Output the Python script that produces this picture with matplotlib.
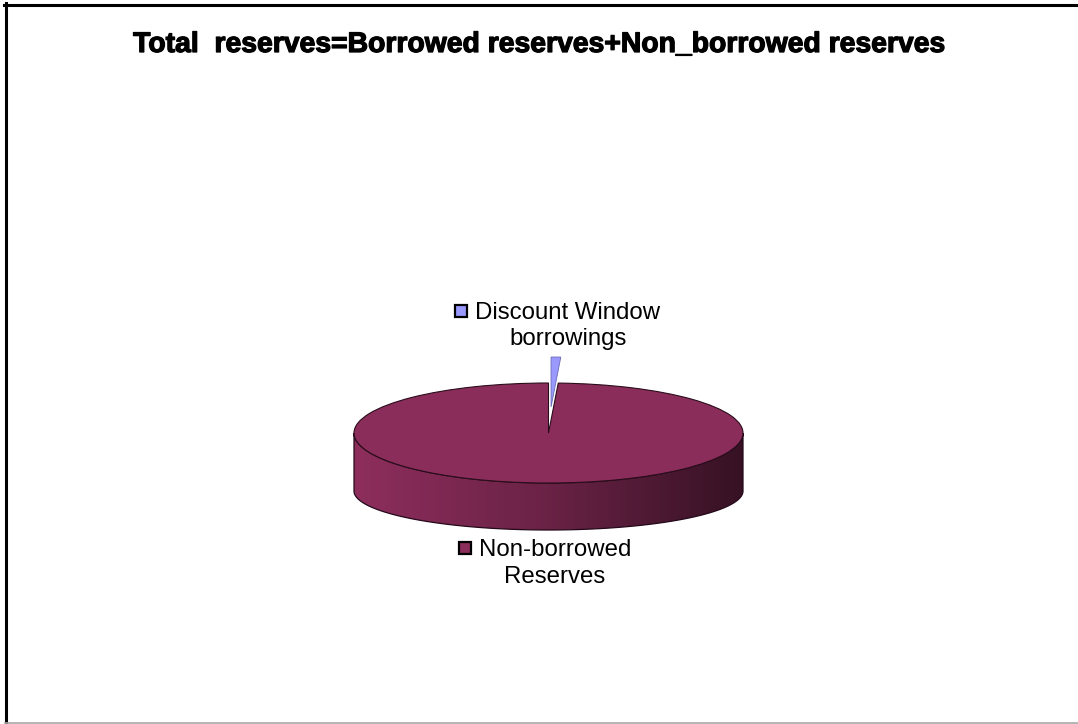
import numpy as np
import matplotlib
matplotlib.use("Agg")
import matplotlib.pyplot as plt
import matplotlib.patheffects as pe
from matplotlib.colors import LinearSegmentedColormap, to_rgb
from matplotlib.patches import Polygon
from matplotlib.lines import Line2D

plt.rcParams['font.family'] = ['Liberation Sans', 'DejaVu Sans']

# ---- data ----
title = "Total  reserves=Borrowed reserves+Non_borrowed reserves"
categories = ["Discount Window borrowings", "Non-borrowed Reserves"]
label_lines = [["Discount Window", "borrowings"], ["Non-borrowed", "Reserves"]]
shares = [0.8, 99.2]          # percent of total reserves
explode = [0.52, 0.0]
top_colors = ["#9999FF", "#8B2D5B"]

# ---- canvas in pixel units ----
W, H = 1078, 724
fig = plt.figure(figsize=(W / 100, H / 100), dpi=100)


def fx(x):
    return x / W


def fy(y):
    return 1 - y / H


# ellipse of the pie's top face (pixels)
cx, cy, rx, ry = 548.5, 433, 194.5, 50
side_drop = 1.16      # drop of the bottom rim centre, in top-face radii
bottom_flat = 0.78    # vertical squash of the bottom rim

ax = fig.add_axes([0, 0, 1, 1])
wedges, _ = ax.pie(shares, startangle=90, counterclock=False,
                   explode=explode, colors=top_colors, radius=1.0,
                   wedgeprops=dict(edgecolor='#2a0d1b', linewidth=0.8))
for w in wedges:
    w.set_zorder(3)
wedges[0].set_edgecolor('#6a6ab8')
wedges[0].set_linewidth(0.6)

# side wall of the cylinder, shaded left to right
for w in wedges:
    x0, y0 = w.center
    base = np.array(to_rgb(w.get_facecolor()))
    cmap = LinearSegmentedColormap.from_list(
        "wall", [np.clip(base * 1.02, 0, 1), base * 0.76, base * 0.39])
    for lo, hi in [(-180, 0), (180, 360)]:
        a, b = max(w.theta1, lo), min(w.theta2, hi)
        if b <= a:
            continue
        t = np.radians(np.linspace(a, b, 300))
        top = np.column_stack([x0 + np.cos(t), y0 + np.sin(t)])
        bottom = np.column_stack([x0 + np.cos(t),
                                  y0 - side_drop + bottom_flat * np.sin(t)])[::-1]
        wall = Polygon(np.vstack([top, bottom]), closed=True,
                       facecolor='none', edgecolor='#24091a', lw=0.9, zorder=2)
        ax.add_patch(wall)
        grad = np.linspace(0, 1, 256).reshape(1, -1)
        im = ax.imshow(grad, cmap=cmap, aspect='auto', interpolation='bilinear',
                       extent=(x0 - 1, x0 + 1, y0 - side_drop - bottom_flat, y0),
                       zorder=1)
        im.set_clip_path(wall)

ax.set_aspect('auto')
ax.set_xlim(-cx / rx, (W - cx) / rx)
ax.set_ylim(-(H - cy) / ry, cy / ry)
ax.axis('off')

# title (heavy bold)
fig.text(fx(540), fy(52), title, ha='center', va='baseline',
         fontsize=20.4, fontweight='bold', color='black',
         path_effects=[pe.withStroke(linewidth=0.9, foreground='black')])

# category labels with legend keys
label_layout = [
    dict(x=568, base=(319, 345), key=(460.5, 311)),
    dict(x=555, base=(556, 583), key=(464.5, 548)),
]
for lines, lay, col in zip(label_lines, label_layout, top_colors):
    for line, yb in zip(lines, lay['base']):
        fig.text(fx(lay['x']), fy(yb), line, ha='center', va='baseline',
                 fontsize=17.3, color='black')
    kx, ky = lay['key']
    fig.add_artist(Line2D([fx(kx)], [fy(ky)], marker='s', markersize=8.5,
                          markerfacecolor=col, markeredgecolor='black',
                          markeredgewidth=1.6, transform=fig.transFigure))

# chart frame
fig.add_artist(Line2D([fx(5.5), fx(5.5)], [fy(3), fy(723)], color='black',
                      lw=2.2, transform=fig.transFigure))
fig.add_artist(Line2D([fx(4), fx(W)], [fy(4.5), fy(4.5)], color='black',
                      lw=2.2, transform=fig.transFigure))
fig.add_artist(Line2D([fx(5), fx(W)], [fy(722.5), fy(722.5)], color='#a8a8a8',
                      lw=1.2, transform=fig.transFigure))

fig.savefig("out.png", dpi=100, facecolor='white')
